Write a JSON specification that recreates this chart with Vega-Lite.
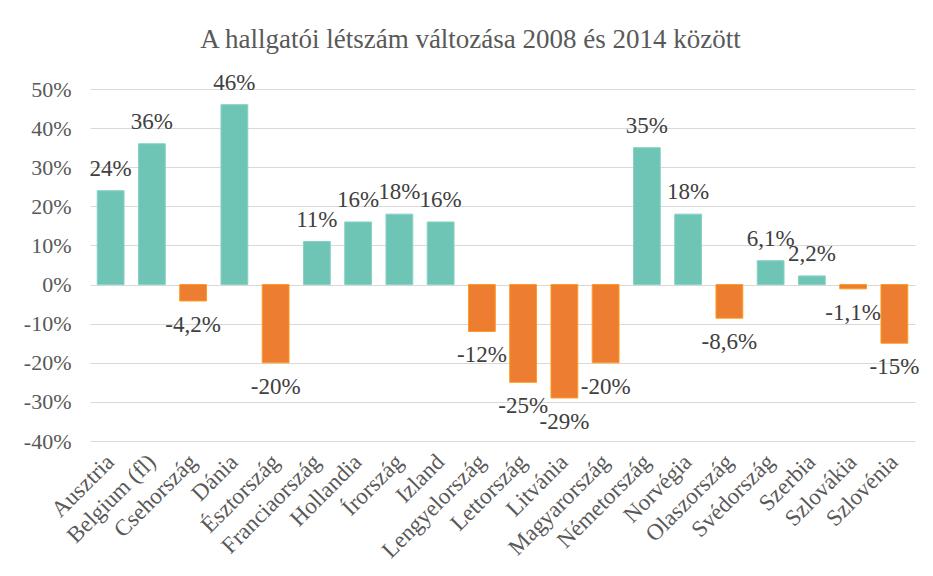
{
  "$schema": "https://vega.github.io/schema/vega-lite/v6.json",
  "width": 825,
  "height": 352,
  "autosize": {"type": "none"},
  "padding": {"left": 90, "top": 89, "right": 18, "bottom": 135},
  "background": "white",
  "title": {
    "text": "A hallgatói létszám változása 2008 és 2014 között",
    "font": "Liberation Serif",
    "fontSize": 27,
    "fontWeight": "normal",
    "color": "#595959",
    "offset": 18,
    "dx": -32,
    "anchor": "middle"
  },
  "config": {
    "locale": {"number": {"decimal": ",", "thousands": " ", "grouping": [3], "currency": ["", ""], "minus": "-"}},
    "view": {"stroke": null},
    "font": "Liberation Serif"
  },
  "data": {
    "values": [
      {"orszag": "Ausztria", "v": 0.24},
      {"orszag": "Belgium (fl)", "v": 0.36},
      {"orszag": "Csehország", "v": -0.042},
      {"orszag": "Dánia", "v": 0.46},
      {"orszag": "Észtország", "v": -0.20},
      {"orszag": "Franciaország", "v": 0.11},
      {"orszag": "Hollandia", "v": 0.16},
      {"orszag": "Írország", "v": 0.18},
      {"orszag": "Izland", "v": 0.16},
      {"orszag": "Lengyelország", "v": -0.12},
      {"orszag": "Lettország", "v": -0.25},
      {"orszag": "Litvánia", "v": -0.29},
      {"orszag": "Magyarország", "v": -0.20},
      {"orszag": "Németország", "v": 0.35},
      {"orszag": "Norvégia", "v": 0.18},
      {"orszag": "Olaszország", "v": -0.086},
      {"orszag": "Svédország", "v": 0.061},
      {"orszag": "Szerbia", "v": 0.022},
      {"orszag": "Szlovákia", "v": -0.011},
      {"orszag": "Szlovénia", "v": -0.15}
    ]
  },
  "encoding": {
    "x": {
      "field": "orszag",
      "type": "nominal",
      "sort": null,
      "scale": {"paddingInner": 0.35, "paddingOuter": 0.175},
      "axis": {
        "title": null,
        "domain": false,
        "ticks": false,
        "labelAngle": -45,
        "labelAlign": "right",
        "labelBaseline": "middle",
        "labelFont": "Liberation Serif",
        "labelFontSize": 23,
        "labelColor": "#595959",
        "labelPadding": 17,
        "labelOverlap": false,
        "labelLimit": 300
      }
    },
    "y": {
      "field": "v",
      "type": "quantitative",
      "scale": {"domain": [-0.4, 0.5], "nice": false},
      "axis": {
        "title": null,
        "domain": false,
        "ticks": false,
        "values": [-0.4, -0.3, -0.2, -0.1, 0, 0.1, 0.2, 0.3, 0.4, 0.5],
        "format": ".0%",
        "labelFont": "Liberation Serif",
        "labelFontSize": 22,
        "labelColor": "#595959",
        "labelPadding": 19,
        "gridColor": "#d9d9d9",
        "gridWidth": 1
      }
    }
  },
  "layer": [
    {
      "mark": {"type": "bar", "strokeWidth": 1},
      "encoding": {
        "color": {"condition": {"test": "datum.v < 0", "value": "#ed7d31"}, "value": "#6fc5b5"},
        "stroke": {"condition": {"test": "datum.v < 0", "value": "#ff9a1f"}, "value": "#86d3c4"}
      }
    },
    {
      "transform": [{"filter": "datum.v >= 0"}],
      "mark": {"type": "text", "baseline": "alphabetic", "dy": -15, "fontSize": 23, "color": "#404040", "font": "Liberation Serif"},
      "encoding": {"text": {"field": "v", "type": "quantitative", "format": ".1~%"}}
    },
    {
      "transform": [{"filter": "datum.v < 0"}],
      "mark": {"type": "text", "baseline": "alphabetic", "dy": 31, "fontSize": 23, "color": "#404040", "font": "Liberation Serif"},
      "encoding": {"text": {"field": "v", "type": "quantitative", "format": ".1~%"}}
    }
  ]
}
